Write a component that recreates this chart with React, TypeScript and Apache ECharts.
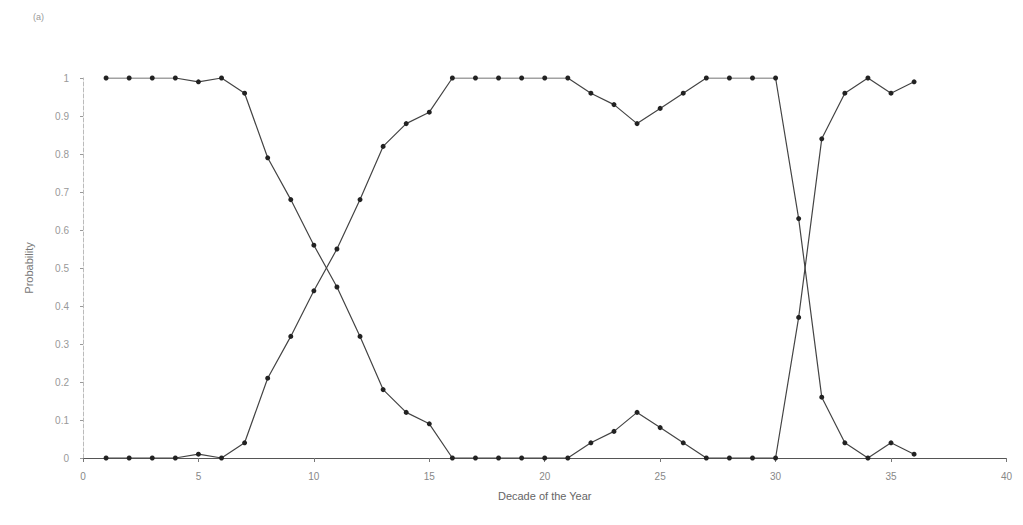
import React, { useEffect, useRef } from "react";
import * as echarts from "echarts";

const decades = [1,2,3,4,5,6,7,8,9,10,11,12,13,14,15,16,17,18,19,20,21,22,23,24,25,26,27,28,29,30,31,32,33,34,35,36];
const seriesHighFirst = [1,1,1,1,0.99,1,0.96,0.79,0.68,0.56,0.45,0.32,0.18,0.12,0.09,0,0,0,0,0,0,0.04,0.07,0.12,0.08,0.04,0,0,0,0,0.37,0.84,0.96,1,0.96,0.99];
const seriesLowFirst = [0,0,0,0,0.01,0,0.04,0.21,0.32,0.44,0.55,0.68,0.82,0.88,0.91,1,1,1,1,1,1,0.96,0.93,0.88,0.92,0.96,1,1,1,1,0.63,0.16,0.04,0,0.04,0.01];
const yTickLabels = ["0","0.1","0.2","0.3","0.4","0.5","0.6","0.7","0.8","0.9","1"];

export default function App() {
  const ref = useRef<HTMLDivElement>(null);
  useEffect(() => {
    if (!ref.current) return;
    const chart = echarts.init(ref.current, null, { renderer: "svg" });
    const font = "Liberation Sans, Arial, sans-serif";
    const mk = (vals: number[]) => ({
      type: "line",
      data: decades.map((d, i) => [d, vals[i]]),
      symbol: "circle",
      symbolSize: 5,
      lineStyle: { color: "#444", width: 1.2 },
      itemStyle: { color: "#222" },
      silent: true,
    });
    chart.setOption({
      animation: false,
      backgroundColor: "#fff",
      grid: { left: 75, right: 4, top: 70, bottom: 59 },
      graphic: [
        { type: "text", left: 25, top: 4, style: { text: "(a)", fill: "#999", font: `9px ${font}` } },
      ],
      xAxis: {
        type: "value",
        min: 0,
        max: 40,
        interval: 5,
        name: "Decade of the Year",
        nameLocation: "middle",
        nameGap: 32,
        nameTextStyle: { color: "#666", fontSize: 11, fontFamily: font },
        axisLine: { lineStyle: { color: "#555", width: 1 } },
        axisTick: { show: true, length: 4, lineStyle: { color: "#777" } },
        axisLabel: { color: "#888", fontSize: 10, fontFamily: font, margin: 13 },
        splitLine: { show: false },
      },
      yAxis: {
        type: "value",
        min: 0,
        max: 1,
        interval: 0.1,
        name: "Probability",
        nameLocation: "middle",
        nameGap: 49,
        nameTextStyle: { color: "#777", fontSize: 11, fontFamily: font },
        axisLine: { show: true, lineStyle: { color: "#bbb", width: 1, type: "dashed" } },
        axisTick: { show: true, length: 3, lineStyle: { color: "#999" } },
        axisLabel: {
          color: "#999",
          fontSize: 10,
          fontFamily: font,
          margin: 14,
          formatter: (v: number) => yTickLabels[Math.round(v * 10)] ?? "",
        },
        splitLine: { show: false },
      },
      series: [mk(seriesHighFirst), mk(seriesLowFirst)],
    });
    return () => chart.dispose();
  }, []);
  return <div ref={ref} style={{ width: 1007, height: 509 }} />;
}
